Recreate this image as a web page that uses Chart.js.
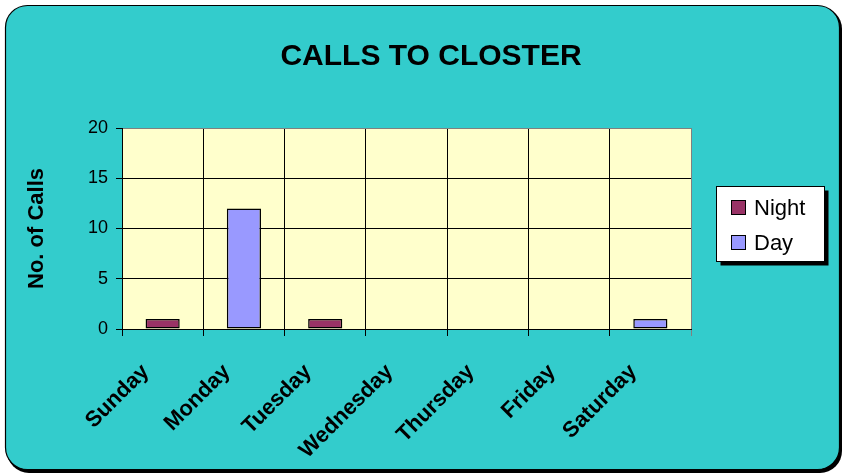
<!DOCTYPE html>
<html>
<head>
<meta charset="utf-8">
<script src="https://cdn.jsdelivr.net/npm/chart.js@4.4.1/dist/chart.umd.min.js"></script>
<style>
  html, body { margin: 0; padding: 0; background: #ffffff; }
  canvas { display: block; }
</style>
</head>
<body>
<canvas id="callsChart" width="843" height="474"></canvas>
<script>
// datos
const days = ['Sunday', 'Monday', 'Tuesday', 'Wednesday', 'Thursday', 'Friday', 'Saturday'];
const nightCalls = [1, 0, 1, 0, 0, 0, 0];
const dayCalls = [0, 12, 0, 0, 0, 0, 1];
const yMin = 0;
const yMax = 20;
const yStep = 5;

const FONT = 'Arial, "Liberation Sans", sans-serif';

// fondo redondeado + area de trazado
const backgroundPlugin = {
    id: 'background',
    beforeDraw(chart) {
        const ctx = chart.ctx;
        const a = chart.chartArea;
        ctx.save();
        ctx.fillStyle = '#ffffff';
        ctx.fillRect(0, 0, chart.width, chart.height);

        // sombra abajo a la derecha
        ctx.beginPath();
        ctx.roundRect(7, 7, 835, 466, 22);
        ctx.fillStyle = '#000000';
        ctx.fill();

        ctx.beginPath();
        ctx.roundRect(5.5, 5.5, 834, 464, 22);
        ctx.fillStyle = '#33cccc';
        ctx.fill();
        ctx.lineWidth = 1.2;
        ctx.strokeStyle = '#000000';
        ctx.stroke();

        ctx.fillStyle = '#ffffcc';
        ctx.fillRect(a.left, a.top, a.right - a.left, a.bottom - a.top);
        ctx.restore();
    }
};

// titulo + leyenda con sombra
const overlayPlugin = {
    id: 'overlay',
    afterDraw(chart) {
        const ctx = chart.ctx;
        ctx.save();
        ctx.fillStyle = '#000000';
        ctx.font = 'bold 30px ' + FONT;
        ctx.textAlign = 'center';
        ctx.textBaseline = 'alphabetic';
        ctx.fillText('CALLS TO CLOSTER', 431, 65);

        const box = { x: 716.5, y: 186.5, w: 108, h: 75 };
        ctx.fillStyle = '#000000';
        ctx.fillRect(box.x + 4, box.y + 4, box.w, box.h);
        ctx.fillStyle = '#ffffff';
        ctx.fillRect(box.x, box.y, box.w, box.h);
        ctx.lineWidth = 1;
        ctx.strokeStyle = '#000000';
        ctx.strokeRect(box.x, box.y, box.w, box.h);

        ctx.font = '22px ' + FONT;
        ctx.textAlign = 'left';
        ctx.textBaseline = 'middle';
        chart.data.datasets.forEach((ds, i) => {
            const y = 208 + i * 35;
            ctx.fillStyle = ds.backgroundColor;
            ctx.fillRect(731.5, y - 7.5, 14, 14);
            ctx.strokeRect(731.5, y - 7.5, 14, 14);
            ctx.fillStyle = '#000000';
            ctx.fillText(ds.label, 754, y + 1);
        });
        ctx.restore();
    }
};

function barBorder(c) {
    return c.raw ? 1.5 : 0;
}

const chart = new Chart(document.getElementById('callsChart'), {
    type: 'bar',
    data: {
        labels: days,
        datasets: [
            {
                label: 'Night',
                data: nightCalls,
                backgroundColor: '#993366',
                borderColor: '#000000',
                borderWidth: barBorder,
                borderSkipped: false
            },
            {
                label: 'Day',
                data: dayCalls,
                backgroundColor: '#9999ff',
                borderColor: '#000000',
                borderWidth: barBorder,
                borderSkipped: false
            }
        ]
    },
    options: {
        responsive: false,
        animation: false,
        events: [],
        layout: {
            padding: { top: 128, right: 152, left: 0, bottom: 0 }
        },
        datasets: {
            bar: { categoryPercentage: 1, barPercentage: 0.42 }
        },
        plugins: {
            legend: { display: false },
            title: { display: false },
            tooltip: { enabled: false }
        },
        scales: {
            x: {
                stacked: true,
                grid: {
                    offset: true,
                    color: c => c.type === 'tick' ? '#000000' : '#808080',
                    tickLength: 7,
                    tickColor: c => c.type === 'tick' ? '#000000' : '#808080'
                },
                border: { color: '#000000' },
                ticks: {
                    color: '#000000',
                    font: { family: FONT, size: 22, weight: 'bold' },
                    minRotation: 45,
                    maxRotation: 45,
                    padding: 23,
                    labelOffset: -17,
                    autoSkip: false
                },
                afterFit(scale) { scale.height = 474 - 329; }
            },
            y: {
                stacked: true,
                min: yMin,
                max: yMax,
                grid: {
                    color: c => c.tick && c.tick.value === yMax ? '#808080' : '#000000',
                    tickLength: 6,
                    tickColor: '#000000'
                },
                border: { color: '#000000' },
                ticks: {
                    stepSize: yStep,
                    color: '#000000',
                    font: { family: FONT, size: 18 },
                    padding: 8
                },
                title: {
                    display: true,
                    text: 'No. of Calls',
                    color: '#000000',
                    font: { family: FONT, size: 22, weight: 'bold' },
                    padding: { top: 24, bottom: 0 }
                },
                afterFit(scale) { scale.width = 122; }
            }
        }
    },
    plugins: [backgroundPlugin, overlayPlugin]
});
</script>
</body>
</html>
